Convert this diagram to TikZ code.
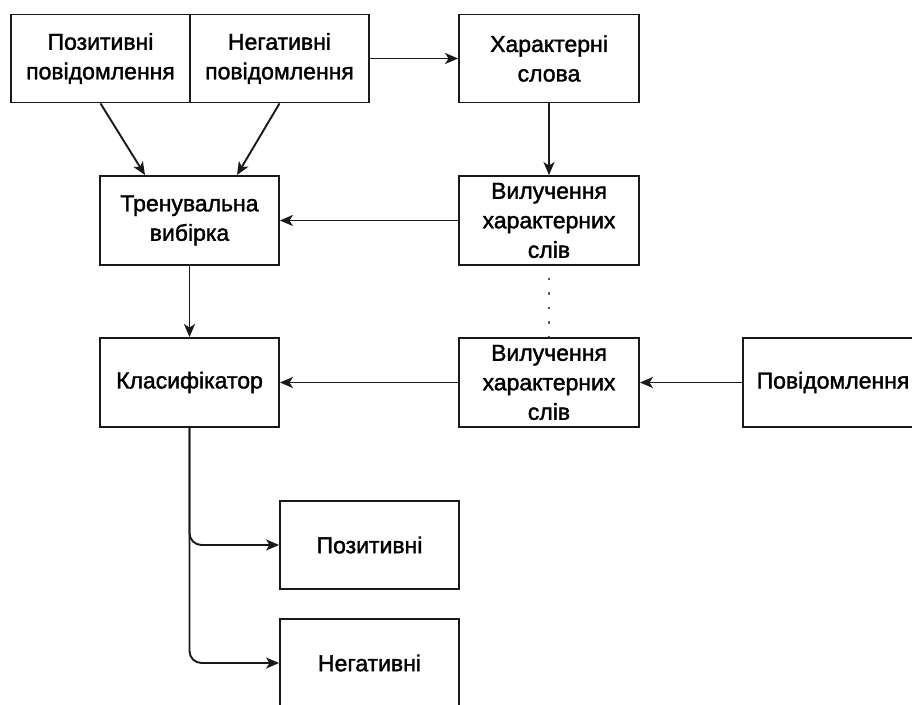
\documentclass[tikz,border=0pt]{standalone}
\usepackage{fontspec}
\setmainfont{Liberation Sans}
\newfontfamily\boxfont[FakeBold=1.6]{Liberation Sans}
\usetikzlibrary{arrows.meta,calc}
\begin{document}
\begin{tikzpicture}[x=1pt,y=1pt,
  box/.style={draw=black!90, line width=1.9pt, rectangle, minimum width=179pt, minimum height=88pt, inner sep=0pt, align=center, text=black, font=\boxfont\fontsize{23}{29.5}\selectfont},
  arr/.style={draw=black!90, line width=1.9pt, -{Stealth[length=13pt,width=11pt,inset=3.5pt]}},
  dots/.style={draw=black!65, line width=2.6pt, dash pattern=on 2.4pt off 12.1pt, dash phase=-12pt}
]
\useasboundingbox (0,0) rectangle (912,-704);
\fill[white] (0,0) rectangle (912,-704);
\begin{scope}
\clip (0,0) rectangle (912,-704);
\node[box] (pos) at (100.5,-58.5) {Позитивні\\повідомлення};
\node[box] (neg) at (279.5,-58.5) {Негативні\\повідомлення};
\node[box, minimum width=180pt] (char) at (549,-58.5) {Характерні\\слова};
\node[box, minimum height=89pt] (train) at (189.5,-220.5) {Тренувальна\\вибірка};
\node[box, minimum width=180pt, minimum height=89pt] (ext1) at (549,-220.5) {Вилучення\\характерних\\слів};
\node[box, minimum height=89pt] (cls) at (189.5,-382.5) {Класифікатор};
\node[box, minimum width=180pt, minimum height=89pt] (ext2) at (549,-382.5) {Вилучення\\характерних\\слів};
\node[box, minimum width=180pt, minimum height=89pt] (msg) at (833,-382.5) {Повідомлення};
\node[box] (posout) at (369.5,-545) {Позитивні};
\node[box] (negout) at (369.5,-663) {Негативні};

\draw[arr] (pos.south) -- ([xshift=-44.5pt]train.north);
\draw[arr] (neg.south) -- ([xshift=47.5pt]train.north);
\draw[arr] (neg.east) -- (char.west);
\draw[arr] (char.south) -- (ext1.north);
\draw[arr] (ext1.west) -- (train.east);
\draw[dots] (ext1.south) -- (ext2.north);
\draw[arr] (train.south) -- (cls.north);
\draw[arr] (ext2.west) -- (cls.east);
\draw[arr] (msg.west) -- (ext2.east);
\draw[arr, rounded corners=12pt] (cls.south) |- (posout.west);
\draw[arr, rounded corners=12pt] (cls.south) |- (negout.west);
\end{scope}
\end{tikzpicture}
\end{document}
